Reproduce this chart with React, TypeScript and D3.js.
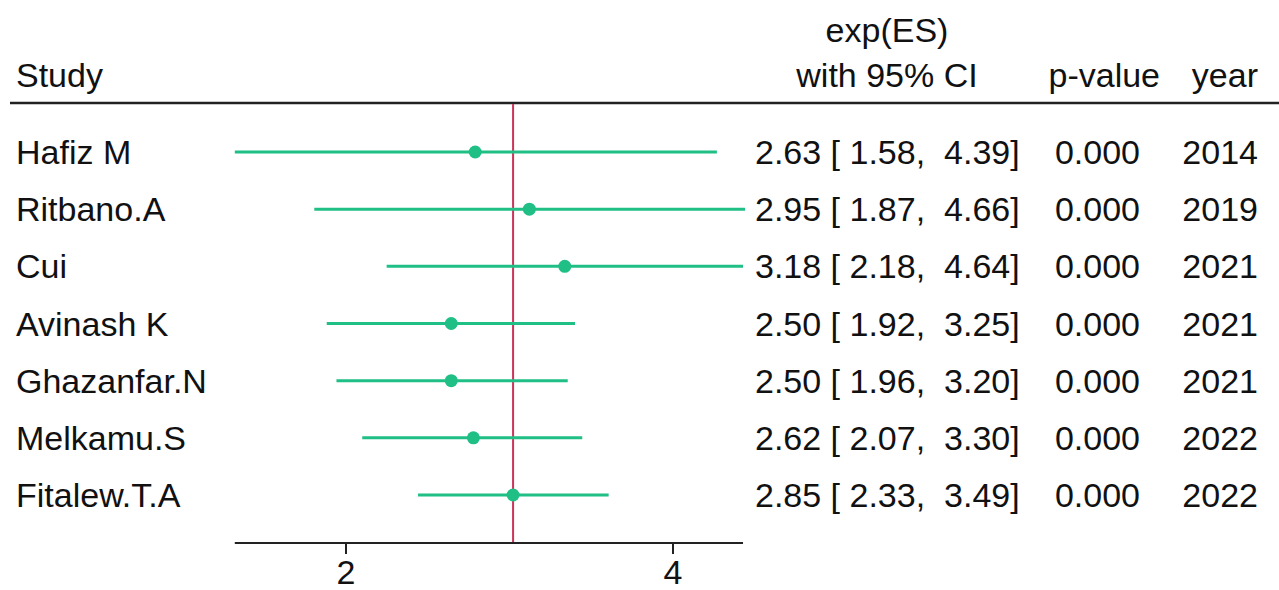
import * as d3 from 'd3';

const studies = ['Hafiz M', 'Ritbano.A', 'Cui', 'Avinash K', 'Ghazanfar.N', 'Melkamu.S', 'Fitalew.T.A'];
const es = [2.63, 2.95, 3.18, 2.5, 2.5, 2.62, 2.85];
const lower = [1.58, 1.87, 2.18, 1.92, 1.96, 2.07, 2.33];
const upper = [4.39, 4.66, 4.64, 3.25, 3.2, 3.3, 3.49];
const pValues = ['0.000', '0.000', '0.000', '0.000', '0.000', '0.000', '0.000'];
const years = ['2014', '2019', '2021', '2021', '2021', '2022', '2022'];
const tickValues = [2, 4];
const overall = 2.85;

const W = 1279;
const H = 590;
const font = '"Liberation Sans", Arial, sans-serif';
const green = '#1fbf86';
const red = '#c9345a';

export default function App() {
  const x = d3.scaleLog().domain([2, 4]).range([346, 673]);
  const y = d3.scalePoint().domain(studies).range([152, 495]);
  const fmt = d3.format('.2f');
  const fs = 34;
  const axisY = 543;

  return (
    <svg width={W} height={H} style={{ position: 'absolute', left: 0, top: 0, background: '#fff' }}
      fontFamily={font} fill="#111">
      {/* header */}
      <text x={16} y={87} fontSize={fs}>Study</text>
      <text x={887} y={42} fontSize={fs} textAnchor="middle">exp(ES)</text>
      <text x={887} y={87} fontSize={fs} textAnchor="middle">with 95% CI</text>
      <text x={1160} y={87} fontSize={fs} textAnchor="end">p-value</text>
      <text x={1258} y={87} fontSize={fs} textAnchor="end">year</text>
      <line x1={10} x2={W} y1={103} y2={103} stroke="#222" strokeWidth={2.5} />

      {/* overall line */}
      <line x1={x(overall)} x2={x(overall)} y1={104} y2={axisY} stroke={red} strokeWidth={2} />

      {studies.map((s, i) => {
        const cy = y(s) as number;
        return (
          <g key={s}>
            <text x={16} y={cy + 12} fontSize={fs}>{s}</text>
            <line x1={x(lower[i])} x2={x(upper[i])} y1={cy} y2={cy} stroke={green} strokeWidth={3} />
            <circle cx={x(es[i])} cy={cy} r={6.5} fill={green} />
            <text x={755} y={cy + 12} fontSize={fs} style={{ whiteSpace: 'pre' }}>
              {`${fmt(es[i])} [ ${fmt(lower[i])},  ${fmt(upper[i])}]`}
            </text>
            <text x={1140} y={cy + 12} fontSize={fs} textAnchor="end">{pValues[i]}</text>
            <text x={1258} y={cy + 12} fontSize={fs} textAnchor="end">{years[i]}</text>
          </g>
        );
      })}

      {/* axis */}
      <line x1={x(1.58)} x2={x(4.64)} y1={axisY} y2={axisY} stroke="#222" strokeWidth={2} />
      {tickValues.map((t) => (
        <g key={t}>
          <line x1={x(t)} x2={x(t)} y1={axisY} y2={axisY + 11} stroke="#222" strokeWidth={2} />
          <text x={x(t)} y={584} fontSize={fs} textAnchor="middle">{t}</text>
        </g>
      ))}
    </svg>
  );
}
